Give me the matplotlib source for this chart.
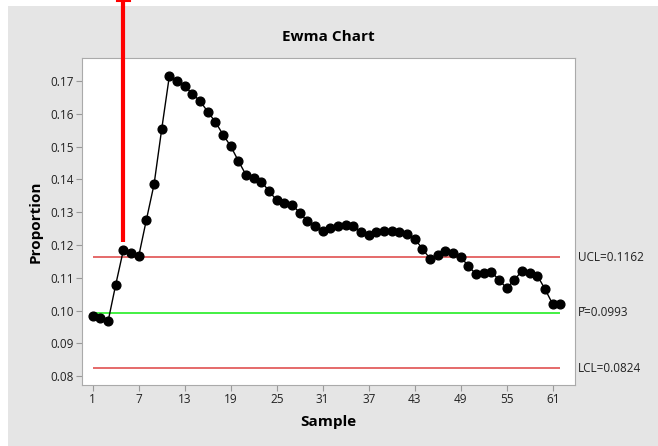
import numpy as np
import matplotlib.pyplot as plt
from matplotlib.patches import Rectangle

plt.rcParams['font.family'] = ['Open Sans', 'DejaVu Sans']

# EWMA values, samples 1..62
samples = np.arange(1, 63)
ewma = [0.0984, 0.0976, 0.0967, 0.1079, 0.1185, 0.1174, 0.1166, 0.1277, 0.1385, 0.1554,
        0.1716, 0.1699, 0.1685, 0.1660, 0.1639, 0.1606, 0.1575, 0.1536, 0.1501, 0.1456,
        0.1413, 0.1403, 0.1393, 0.1364, 0.1336, 0.1329, 0.1323, 0.1298, 0.1273, 0.1259,
        0.1244, 0.1251, 0.1259, 0.1260, 0.1257, 0.1240, 0.1230, 0.1238, 0.1244, 0.1244,
        0.1240, 0.1232, 0.1219, 0.1188, 0.1158, 0.1170, 0.1182, 0.1176, 0.1164, 0.1135,
        0.1111, 0.1115, 0.1118, 0.1093, 0.1068, 0.1094, 0.1121, 0.1116, 0.1106, 0.1065,
        0.1019, 0.1019]

ucl = 0.1162
pbar = 0.0993
lcl = 0.0824
limit_labels = ['UCL=0.1162', 'P\u0304=0.0993', 'LCL=0.0824']

x_ticks = [1, 7, 13, 19, 25, 31, 37, 43, 49, 55, 61]
y_ticks = [0.08, 0.09, 0.10, 0.11, 0.12, 0.13, 0.14, 0.15, 0.16, 0.17]

# the red marker line sits on sample 5
mark_sample = 5
mark_from = 0.1210

fig = plt.figure(figsize=(6.58, 4.46), dpi=100)
fig.patch.set_facecolor('white')
bg = Rectangle((8 / 658, 0), 1, 1 - 6 / 446, transform=fig.transFigure,
               facecolor='#e5e5e5', edgecolor='none', zorder=-10)
fig.add_artist(bg)

ax = fig.add_axes([82 / 658, 1 - 385 / 446, 493 / 658, 327 / 446])
ax.set_facecolor('white')

ax.hlines([ucl, lcl], 1, 62, color='#e05050', linewidth=1.2, zorder=2)
ax.hlines(pbar, 1, 62, color='#22ee22', linewidth=1.2, zorder=2)
ax.plot(samples, ewma, color='black', linewidth=1, marker='o', markersize=6.3, zorder=3)

for val, lab in zip([ucl, pbar, lcl], limit_labels):
    ax.text(1.006, val, lab, transform=ax.get_yaxis_transform(), ha='left', va='center',
            fontsize=8.5, color='#222222')

ax.set_xlim(-0.4, 63.9)
ax.set_ylim(0.0773, 0.1770)
ax.set_xticks(x_ticks)
ax.set_yticks(y_ticks)
ax.set_yticklabels(['%.2f' % v for v in y_ticks])
ax.tick_params(direction='out', length=4, color='#999999', labelsize=8.5,
               labelcolor='#222222', pad=2)
for s in ax.spines.values():
    s.set_color('#aaaaaa')

ax.set_title('Ewma Chart', fontsize=11, fontweight='bold', pad=12)
ax.set_xlabel('Sample', fontsize=11, fontweight='bold', labelpad=6)
ax.set_ylabel('Proportion', fontsize=11, fontweight='bold', labelpad=5)

# red marker running off the top of the image
ax.plot([mark_sample, mark_sample], [mark_from, 0.1990], color='red', linewidth=3,
        clip_on=False, zorder=5, solid_capstyle='butt')
ax.plot([mark_sample - 0.8, mark_sample + 0.8], [0.1944, 0.1944], color='red', linewidth=1.5,
        clip_on=False, zorder=5)

fig.savefig('out.png', dpi=100)
